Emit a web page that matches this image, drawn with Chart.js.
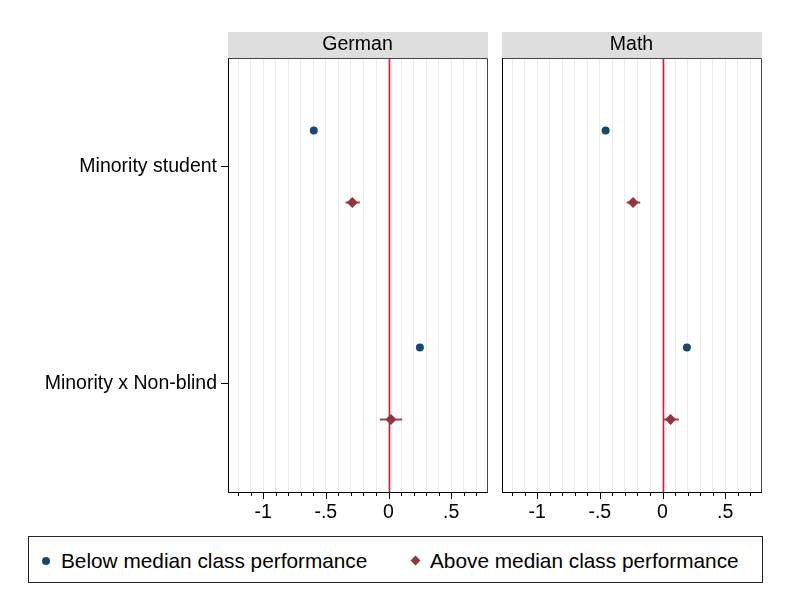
<!DOCTYPE html>
<html>
<head>
<meta charset="utf-8">
<script src="https://cdn.jsdelivr.net/npm/chart.js@4/dist/chart.umd.min.js"></script>
<style>
  body { margin: 0; background: #fff; width: 791px; height: 605px; position: relative; overflow: hidden;
    font-family: "Liberation Sans", Arial, sans-serif; }
  #german { position: absolute; left: 0; top: 0; }
  #math { position: absolute; left: 494px; top: 0; }
  #legend { position: absolute; left: 28px; top: 536px; width: 735px; height: 47px; border: 1px solid #222;
    box-sizing: border-box; font-size: 20.8px; color: #000; }
  #legend .item { position: absolute; top: 0; height: 43px; line-height: 43px; white-space: nowrap; }
  #legend .mk { display: inline-block; vertical-align: middle; }
</style>
</head>
<body>
<canvas id="german" width="494" height="535"></canvas>
<canvas id="math" width="297" height="535"></canvas>
<div id="legend"></div>
<script>
// data
const panels = ['German', 'Math'];
const categories = ['Minority student', 'Minority x Non-blind'];
const seriesNames = ['Below median class performance', 'Above median class performance'];

const germanBelow = [-0.596, 0.25];
const germanBelowLo = [-0.615, 0.232];
const germanBelowHi = [-0.577, 0.268];
const germanAbove = [-0.289, 0.019];
const germanAboveLo = [-0.343, -0.07];
const germanAboveHi = [-0.229, 0.109];

const mathBelow = [-0.454, 0.194];
const mathBelowLo = [-0.472, 0.177];
const mathBelowHi = [-0.436, 0.211];
const mathAbove = [-0.235, 0.064];
const mathAboveLo = [-0.286, 0.003];
const mathAboveHi = [-0.178, 0.13];

const minorTicks = [-1.2, -1.1, -1, -0.9, -0.8, -0.7, -0.6, -0.5, -0.4, -0.3, -0.2, -0.1,
  0, 0.1, 0.2, 0.3, 0.4, 0.5, 0.6, 0.7];
const majorTicks = [-1, -0.5, 0, 0.5];
const majorLabels = ['-1', '-.5', '0', '.5'];

const blue = '#1a476f';
const maroon = '#90353b';
const refRed = '#e0143c';
const font = { family: '"Liberation Sans", Arial, sans-serif', size: 19.5 };

const isMajor = (v) => majorTicks.some((m) => Math.abs(m - v) < 1e-6);

const panelPlugin = {
  id: 'panel',
  beforeDraw(chart, args, opts) {
    const { ctx, chartArea } = chart;
    ctx.save();
    ctx.fillStyle = '#dedede';
    ctx.fillRect(chartArea.left, 32, chartArea.right - chartArea.left + 1, chartArea.top - 32);
    ctx.fillStyle = '#000';
    ctx.font = '19.5px "Liberation Sans", Arial, sans-serif';
    ctx.textAlign = 'center';
    ctx.textBaseline = 'middle';
    ctx.fillText(opts.title, (chartArea.left + chartArea.right) / 2, 45);
    ctx.restore();
  },
  beforeDatasetsDraw(chart) {
    const { ctx, chartArea, scales } = chart;
    const x0 = Math.round(scales.x.getPixelForValue(0)) + 0.5;
    ctx.save();
    ctx.strokeStyle = refRed;
    ctx.lineWidth = 1.6;
    ctx.beginPath();
    ctx.moveTo(x0, chartArea.top);
    ctx.lineTo(x0, chartArea.bottom);
    ctx.stroke();
    // confidence intervals
    chart.data.datasets.forEach((ds) => {
      ctx.strokeStyle = ds.barColor;
      ctx.lineWidth = 2;
      ds.data.forEach((p) => {
        const y = scales.y.getPixelForValue(p.y);
        ctx.beginPath();
        ctx.moveTo(scales.x.getPixelForValue(p.lo), y);
        ctx.lineTo(scales.x.getPixelForValue(p.hi), y);
        ctx.stroke();
      });
    });
    ctx.restore();
  },
  afterDraw(chart) {
    const { ctx, chartArea, scales } = chart;
    ctx.save();
    // frame top/right, and left when the y axis is hidden
    ctx.strokeStyle = '#444';
    ctx.lineWidth = 1;
    ctx.beginPath();
    ctx.moveTo(chartArea.left, chartArea.top + 0.5);
    ctx.lineTo(chartArea.right + 0.5, chartArea.top + 0.5);
    ctx.lineTo(chartArea.right + 0.5, chartArea.bottom);
    ctx.stroke();
    if (!scales.y.options.display) {
      ctx.strokeStyle = '#000';
      ctx.beginPath();
      ctx.moveTo(chartArea.left + 0.5, chartArea.top);
      ctx.lineTo(chartArea.left + 0.5, chartArea.bottom);
      ctx.stroke();
    }
    // x tick marks
    ctx.strokeStyle = '#000';
    scales.x.ticks.forEach((t) => {
      const x = Math.round(scales.x.getPixelForValue(t.value)) + 0.5;
      const len = isMajor(t.value) ? 7 : 4;
      ctx.beginPath();
      ctx.moveTo(x, chartArea.bottom);
      ctx.lineTo(x, chartArea.bottom + len);
      ctx.stroke();
    });
    ctx.restore();
  },
};

function buildPoints(vals, lo, hi, offset) {
  return vals.map((v, i) => ({ x: v, y: i + 1 + offset, lo: lo[i], hi: hi[i] }));
}

function makePanel(canvasId, title, below, belowLo, belowHi, above, aboveLo, aboveHi, showY, padding) {
  return new Chart(document.getElementById(canvasId), {
    type: 'scatter',
    data: {
      datasets: [
        {
          label: seriesNames[0],
          data: buildPoints(below, belowLo, belowHi, -0.166),
          pointStyle: 'circle',
          pointRadius: 4,
          backgroundColor: blue,
          borderColor: blue,
          borderWidth: 0,
          barColor: blue,
        },
        {
          label: seriesNames[1],
          data: buildPoints(above, aboveLo, aboveHi, 0.166),
          pointStyle: 'rectRot',
          pointRadius: 5.5,
          backgroundColor: maroon,
          borderColor: maroon,
          borderWidth: 0,
          barColor: '#a0454b',
        },
      ],
    },
    options: {
      responsive: false,
      animation: false,
      layout: { padding },
      plugins: {
        legend: { display: false },
        tooltip: { enabled: false },
        panel: { title },
      },
      scales: {
        x: {
          type: 'linear',
          min: -1.28,
          max: 0.785,
          afterBuildTicks: (scale) => { scale.ticks = minorTicks.map((v) => ({ value: v })); },
          afterFit: (scale) => { scale.height = 43; },
          grid: {
            color: '#ebebeb',
            lineWidth: 1,
            tickLength: 7,
            tickColor: 'rgba(0,0,0,0)',
          },
          border: { display: true, color: '#000', width: 1 },
          ticks: {
            autoSkip: false,
            maxRotation: 0,
            padding: 2,
            color: '#000',
            font,
            callback: (v) => {
              const k = majorTicks.findIndex((m) => Math.abs(m - v) < 1e-6);
              return k >= 0 ? majorLabels[k] : '';
            },
          },
        },
        y: {
          type: 'linear',
          display: showY,
          reverse: true,
          min: 0.5,
          max: 2.5,
          afterBuildTicks: (scale) => { scale.ticks = categories.map((c, i) => ({ value: i + 1 })); },
          afterFit: (scale) => { scale.width = showY ? 228 : 0; },
          grid: { drawOnChartArea: false, tickLength: 7, color: '#000' },
          border: { display: true, color: '#000', width: 1 },
          ticks: {
            padding: 4,
            color: '#000',
            font,
            callback: (v) => categories[Math.round(v) - 1],
          },
        },
      },
    },
    plugins: [panelPlugin],
  });
}

makePanel('german', panels[0], germanBelow, germanBelowLo, germanBelowHi,
  germanAbove, germanAboveLo, germanAboveHi, true, { top: 58, right: 7, left: 0, bottom: 0 });
makePanel('math', panels[1], mathBelow, mathBelowLo, mathBelowHi,
  mathAbove, mathAboveLo, mathAboveHi, false, { top: 58, right: 30, left: 8, bottom: 0 });

// legend
const legend = document.getElementById('legend');
const markers = [
  '<span class="mk" style="width:8px;height:8px;border-radius:50%;background:' + blue + ';"></span>',
  '<span class="mk" style="width:7px;height:7px;transform:rotate(45deg);background:' + maroon + ';"></span>',
];
const legendLeft = [13, 383];
seriesNames.forEach((name, i) => {
  const item = document.createElement('div');
  item.className = 'item';
  item.style.left = legendLeft[i] + 'px';
  item.innerHTML = markers[i] + '<span style="margin-left:11px;vertical-align:middle;">' + name + '</span>';
  legend.appendChild(item);
});
</script>
</body>
</html>
